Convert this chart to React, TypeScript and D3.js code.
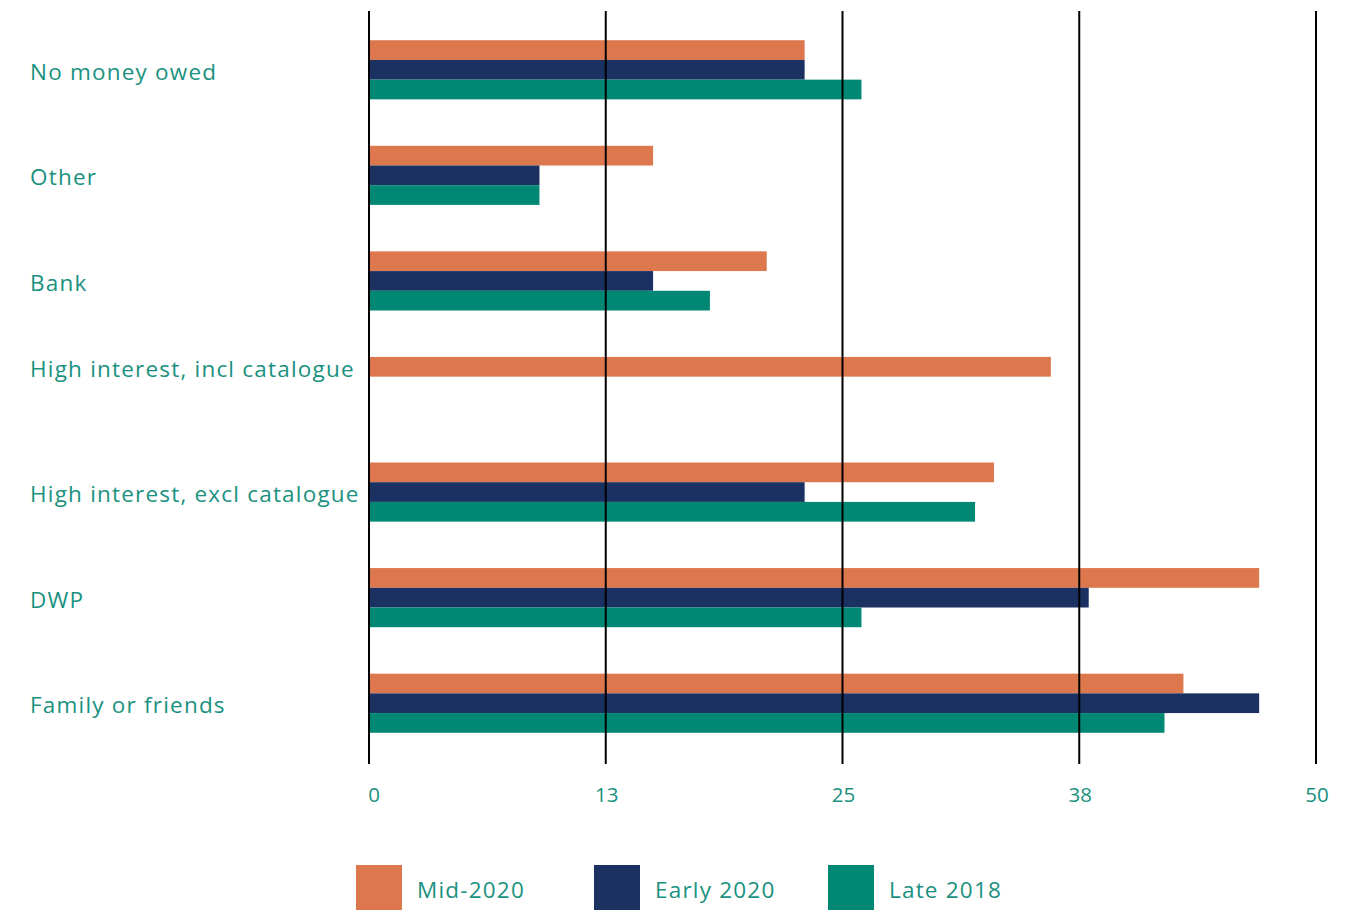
import React, { useEffect } from "react";
import * as d3 from "d3";

// Sources of money owed, share of respondents (%) per survey wave
const categories = [
  "No money owed",
  "Other",
  "Bank",
  "High interest, incl catalogue",
  "High interest, excl catalogue",
  "DWP",
  "Family or friends",
];
const seriesNames = ["Mid-2020", "Early 2020", "Late 2018"];
const mid2020 = [23, 15, 21, 36, 33, 47, 43];
const early2020: (number | null)[] = [23, 9, 15, null, 23, 38, 47];
const late2018: (number | null)[] = [26, 9, 18, null, 32, 26, 42];
const tickValues = [0, 12.5, 25, 37.5, 50];
const tickLabels = ["0", "13", "25", "38", "50"];

const seriesValues = [mid2020, early2020, late2018];
const colors = ["#DC774E", "#1A3161", "#008875"];
const textColor = "#1A917F";
const fontFamily = "'Open Sans', 'Noto Sans', sans-serif";

const W = 1360;
const H = 910;

export default function App() {
  useEffect(() => {
    document.body.style.margin = "0";
  }, []);

  const x = d3.scaleLinear().domain([0, 50]).range([369, 1316]);
  const y = d3
    .scaleBand<string>()
    .domain(categories)
    .range([17, 756])
    .paddingInner(0.44)
    .paddingOuter(0.22);
  const ySub = d3
    .scaleBand<string>()
    .domain(seriesNames)
    .range([0, y.bandwidth()]);

  const gridTop = 11;
  const gridBottom = 764;

  // label centred on the bars actually drawn for each category
  const labelY = (ci: number) => {
    const cat = categories[ci];
    const drawn = seriesNames.filter((_, si) => seriesValues[si][ci] != null);
    const top = (y(cat) as number) + (ySub(drawn[0]) as number);
    const bottom =
      (y(cat) as number) + (ySub(drawn[drawn.length - 1]) as number) + ySub.bandwidth();
    return (top + bottom) / 2;
  };

  const legendX = [356, 594, 828];

  return (
    <svg width={W} height={H} style={{ display: "block", background: "#fff" }}>
      {/* bars */}
      {categories.map((cat, ci) => (
        <g key={cat} transform={`translate(0,${y(cat)})`}>
          {seriesNames.map((s, si) => {
            const v = seriesValues[si][ci];
            if (v == null) return null;
            return (
              <rect
                key={s}
                x={x(0)}
                y={ySub(s)}
                width={x(v) - x(0)}
                height={ySub.bandwidth()}
                fill={colors[si]}
              />
            );
          })}
        </g>
      ))}

      {/* vertical grid lines over the bars */}
      {tickValues.map((t) => (
        <line
          key={t}
          x1={x(t)}
          x2={x(t)}
          y1={gridTop}
          y2={gridBottom}
          stroke="#000"
          strokeWidth={2}
        />
      ))}

      {/* category labels */}
      {categories.map((cat, ci) => (
        <text
          key={cat}
          x={30}
          y={labelY(ci) + 2}
          dy="0.35em"
          fill={textColor}
          fontFamily={fontFamily}
          fontSize={22.5}
          letterSpacing={1.2}
        >
          {cat}
        </text>
      ))}

      {/* x tick labels */}
      {tickValues.map((t, i) => (
        <text
          key={t}
          x={x(t) + (i === 0 ? 5 : 1)}
          y={795}
          dy="0.35em"
          textAnchor="middle"
          fill={textColor}
          fontFamily={fontFamily}
          fontSize={20.5}
        >
          {tickLabels[i]}
        </text>
      ))}

      {/* legend */}
      {seriesNames.map((s, si) => (
        <g key={s} transform={`translate(${legendX[si]},865)`}>
          <rect x={0} y={0} width={46} height={50} fill={colors[si]} />
          <text
            x={61}
            y={25}
            dy="0.35em"
            fill={textColor}
            fontFamily={fontFamily}
            fontSize={22.5}
            letterSpacing={1.2}
          >
            {s}
          </text>
        </g>
      ))}
    </svg>
  );
}
